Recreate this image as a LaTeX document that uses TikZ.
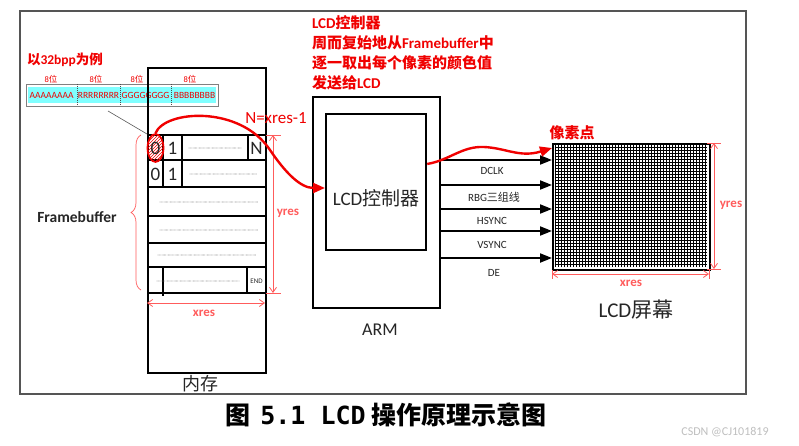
\documentclass[tikz,border=0pt]{standalone}
\usepackage{fontspec}
\setmainfont{Carlito}
\newfontfamily\cjk{Noto Sans CJK SC}
\newfontfamily\monob{DejaVu Sans Mono}
\usetikzlibrary{arrows.meta,patterns,decorations.pathreplacing,shapes.geometric,calc}
\definecolor{rd}{HTML}{F00000}
\definecolor{lrd}{HTML}{FF5C5C}
\definecolor{txt}{HTML}{262626}
\definecolor{cy}{HTML}{80FFFF}
\definecolor{frm}{HTML}{555555}
\newcommand{\zh}[1]{{\cjk #1}}
\newcommand{\fs}[1]{\fontsize{#1}{#1}\selectfont}
\begin{document}
\begin{tikzpicture}[x=1pt,y=-1pt,
  lbl/.style={inner sep=0pt, outer sep=0pt},
  thickl/.style={line width=2.2pt},
  celll/.style={line width=1.1pt},
  dotl/.style={black!60, line width=0.7pt, line cap=round, dash pattern=on 0pt off 1.3pt},
  dimarrow/.style={lrd, line width=0.8pt, {Straight Barb[length=5pt,width=7pt]}-{Straight Barb[length=5pt,width=7pt]}},
  dimtick/.style={lrd, line width=0.8pt},
  dimlbl/.style={lbl, text=lrd, font=\fs{13}\bfseries},
  sig/.style={line width=2pt, -{Triangle[length=12pt,width=9pt]}},
  sigl/.style={lbl, text=txt, font=\fs{11}},
  redarr/.style={rd, line width=2.4pt, -{Triangle[length=12pt,width=10pt]}},
  digit/.style={lbl, text=txt, font=\fs{19}},
  bitl/.style={lbl, text=rd, font=\fs{8.5}},
  bitt/.style={lbl, text=rd, font=\fs{9.5}},
]
\useasboundingbox (0,0) rectangle (799,446);
\fill[white] (0,0) rectangle (799,446);

% outer frame
\node[draw=frm, line width=1.6pt, minimum width=726pt, minimum height=383pt, anchor=north west, inner sep=0pt] (frame) at (19,10) {};

% top red explanation
\node[lbl, anchor=west, text=rd, font=\fs{15}\bfseries] (t1) at (312,23) {LCD\zh{控制器}};
\node[lbl, anchor=west, text=rd, font=\fs{15}\bfseries] (t2) at (312,43) {\zh{周而复始地从}Framebuffer\zh{中}};
\node[lbl, anchor=west, text=rd, font=\fs{15}\bfseries] (t3) at (312,63) {\zh{逐一取出每个像素的颜色值}};
\node[lbl, anchor=west, text=rd, font=\fs{15}\bfseries] (t4) at (312,83) {\zh{发送给}LCD};

% 32bpp example
\node[lbl, anchor=west, text=rd, font=\fs{13.5}\bfseries] (bpp) at (27,60) {\zh{以}32bpp\zh{为例}};
\node[draw=gray, line width=0.6pt, fill=white, minimum width=192pt, minimum height=22pt, anchor=north west, inner sep=0pt] (bits) at (26,84) {};
\fill[cy] (28,87) rectangle (216,103);
\foreach \xx in {77,120,171} \draw[black!70, line width=0.5pt, dash pattern=on 1pt off 1pt] (\xx,84) -- (\xx,106);
\node[bitt] (ba) at (51.5,95) {AAAAAAAA};
\node[bitt] (br) at (98.5,95) {RRRRRRRR};
\node[bitt] (bg) at (145.5,95) {GGGGGGGG};
\node[bitt] (bb) at (194.5,95) {BBBBBBBB};
\node[bitl] (w1) at (51,79) {8\zh{位}};
\node[bitl] (w2) at (96,79) {8\zh{位}};
\node[bitl] (w3) at (137,79) {8\zh{位}};
\node[bitl] (w4) at (190,79) {8\zh{位}};

% memory
\node[draw, thickl, minimum width=118pt, minimum height=305pt, anchor=north west, inner sep=0pt] (mem) at (147,67) {};
\foreach \yy in {135,160,187,216,243,267,293} \draw[thickl] (147,\yy) -- (265,\yy);
% row 1 cells
\draw[celll] (163,135) -- (163,160) (182,135) -- (182,160) (248,135) -- (248,160);
\node[draw=rd, line width=1.7pt, ellipse, minimum width=16pt, minimum height=28pt, inner sep=0pt, pattern=north east lines, pattern color=rd] (circ) at (155.5,148) {};
\node[digit] (c0) at (155.5,148) {0};
\node[digit] (c1) at (172.5,148) {1};
\node[digit] (cN) at (256.5,148) {N};
\draw[dotl] (189,148) -- (242,148);
% row 2
\draw[celll] (163,160) -- (163,187) (182,160) -- (182,187);
\node[digit] (d0) at (155.5,174) {0};
\node[digit] (d1) at (172.5,174) {1};
\draw[dotl] (190,174) -- (257,174);
% rows 3-5
\draw[dotl] (160,202) -- (258,202);
\draw[dotl] (160,230) -- (258,230);
\draw[dotl] (158,255) -- (256,255);
% row 6
\draw[celll] (163,267) -- (163,296) (247,267) -- (247,293);
\draw[dotl] (157,281) -- (240,281);
\node[lbl, text=txt, font=\fs{7}] (endl) at (256.5,281) {END};
\node[lbl, text=txt, font=\fs{18}] (memlbl) at (200,384) {\zh{内存}};

% pointer line from bits to cell 0
\draw[black!65, line width=0.6pt] (108,111) -- (147,134);

% memory dims
\coordinate (my1) at (273,135);
\coordinate (my2) at (273,293);
\draw[dimtick] (266,135) -- (281,135) (266,293) -- (281,293);
\draw[dimarrow] (my1) -- (my2);
\node[dimlbl] (myl) at (288,213) {yres};
\coordinate (mx1) at (147,303);
\coordinate (mx2) at (265,303);
\draw[dimarrow] (mx1) -- (mx2);
\node[dimlbl] (mxl) at (204,313) {xres};
\node[lbl, text=rd, font=\fs{17}] (nlbl) at (276,118) {N=xres-1};

% framebuffer brace
\draw[lrd, line width=0.7pt, decorate, decoration={brace, amplitude=10pt}] (141,290) -- (141,135);
\node[lbl, text=txt, font=\fs{15.5}\bfseries] (fb) at (77,217) {Framebuffer};

% ARM
\node[draw, thickl, minimum width=127pt, minimum height=211pt, anchor=north west, inner sep=0pt] (arm) at (312,96) {};
\node[draw, thickl, minimum width=100pt, minimum height=136pt, anchor=north west, inner sep=0pt] (ctrl) at (325,113) {};
\node[lbl, text=txt, font=\fs{19}] (ctrll) at (ctrl.center |- 0,198) {LCD\zh{控制器}};
\node[lbl, text=txt, font=\fs{18}] (arml) at (380,330) {ARM};

% screen
\node[draw, line width=2.4pt, fill=white, minimum width=157pt, minimum height=126pt, anchor=north west, inner sep=0pt] (screen) at (552,143) {};
\draw[line width=0.9pt, step=3pt] (554.5,145.5) grid (706.5,266.5);
\node[lbl, text=rd, font=\fs{15}\bfseries] (pix) at (572,133) {\zh{像素点}};
\node[lbl, text=txt, font=\fs{21}] (lcdl) at (636,310) {LCD\zh{屏幕}};
\draw[dimtick] (707,143) -- (721,143) (707,269) -- (721,269);
\draw[dimtick] (552,270) -- (552,279) (709,270) -- (709,279);
\coordinate (sy1) at (714,143);
\coordinate (sy2) at (714,269);
\draw[dimarrow] (sy1) -- (sy2);
\node[dimlbl] (syl) at (731,205) {yres};
\coordinate (sx1) at (552,274);
\coordinate (sx2) at (709,274);
\draw[dimarrow] (sx1) -- (sx2);
\node[dimlbl] (sxl) at (631,283) {xres};

% signal arrows
\draw[sig] (arm.east |- 0,160) -- (screen.west |- 0,160);
\draw[sig] (arm.east |- 0,185) -- (screen.west |- 0,185);
\draw[sig] (arm.east |- 0,209) -- (screen.west |- 0,209);
\draw[sig] (arm.east |- 0,231) -- (screen.west |- 0,231);
\draw[sig] (arm.east |- 0,258) -- (screen.west |- 0,258);
\node[sigl] (s1) at (492,171) {DCLK};
\node[sigl] (s2) at (494,197) {RBG\zh{三组线}};
\node[sigl] (s3) at (492,221) {HSYNC};
\node[sigl] (s4) at (492,245) {VSYNC};
\node[sigl] (s5) at (494,273) {DE};

% red flow arrows
\draw[redarr] (circ.north) .. controls (165,110) and (240,105) .. (270,150)
   .. controls (285,172) and (300,188) .. (ctrl.west |- 0,188);
\draw[redarr] (ctrl.east |- 0,164) .. controls (450,160) and (462,146) .. (484,147)
   .. controls (506,148) and (520,158) .. (screen.north west |- 0,148);

% caption
\node[lbl, text=black, font=\fs{25}\bfseries] (cap) at (386,415) {\zh{图}\hspace{10pt}{\monob 5.1 LCD}\hspace{6pt}\zh{操作原理示意图}};
\node[lbl, text=black!25, font=\fs{12}] (wm) at (725,432) {CSDN @CJ101819};
\end{tikzpicture}
\end{document}
